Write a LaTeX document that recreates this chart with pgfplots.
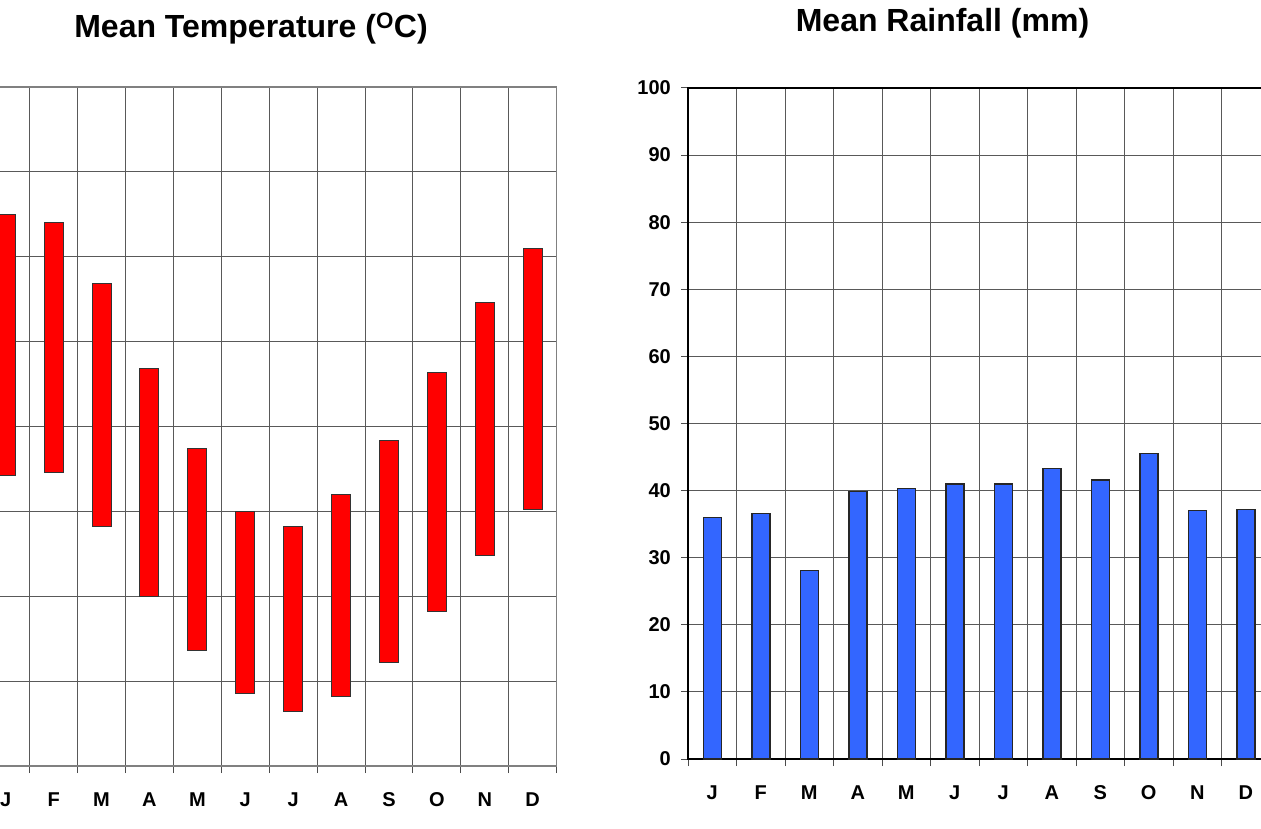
\documentclass[border=0pt]{standalone}
\usepackage{pgfplots}
\pgfplotsset{compat=1.18}
\usepackage{pgfplotstable}
\usepackage{fontspec}
\setmainfont{Liberation Sans}

% monthly temperature range (lo, hi) and rainfall
\pgfplotstableread{
m lo hi
0 17.1 32.5
1 17.3 32.0
2 14.1 28.4
3 10.0 23.4
4 6.8 18.7
5 4.3 15.0
6 3.2 14.1
7 4.1 16.0
8 6.1 19.2
9 9.1 23.2
10 12.4 27.3
11 15.1 30.5
}\temps

\pgfplotstableread{
m rain
0 36.0
1 36.6
2 28.1
3 39.9
4 40.3
5 41.0
6 41.0
7 43.3
8 41.6
9 45.5
10 37.0
11 37.2
}\rain

\pgfplotsset{
  month axis/.style={
    scale only axis,
    anchor=south west,
    xmin=-0.5, xmax=11.5,
    xtick={0,...,11},
    xticklabels={J,F,M,A,M,J,J,A,S,O,N,D},
    minor xtick={-0.5,0.5,...,11.5},
    major x tick style={draw=none},
    minor tick length=7pt,
    major tick length=7pt,
    tick align=outside,
    xtick pos=bottom, ytick pos=left,
    ymajorgrids, xminorgrids,
    grid style={black!65, line width=1pt},
    minor grid style={black!65, line width=1pt},
    tick style={black!70, line width=1pt},
    tick label style={font=\bfseries\fontsize{20}{22}\selectfont},
    /pgf/number format/assume math mode=true,
    xticklabel style={anchor=north, inner sep=0pt, text height=14.3pt, text depth=0pt, yshift=-19pt},
    yticklabel style={anchor=east, inner sep=0pt, xshift=-10pt},
  },
}

\begin{document}
\begin{tikzpicture}
\useasboundingbox (0pt,0pt) rectangle (1261pt,828pt);
\clip (0pt,0pt) rectangle (1261pt,828pt);

% temperature: floating bars from lo to hi (its y labels lie off the picture)
\begin{axis}[month axis,
    at={(-18.2pt,62pt)}, width=574.8pt, height=679pt,
    ymin=0, ymax=40, ytick={0,5,...,40}, yticklabels={},
    ybar stacked, bar width=19pt,
    axis line style={black!50, line width=1.5pt},
  ]
  \addplot[draw=none, fill=none] table[x=m, y=lo] {\temps};
  \addplot[fill=red, draw=black!80, line width=1pt]
    table[x=m, y expr=\thisrow{hi}-\thisrow{lo}] {\temps};
\end{axis}

% rainfall
\begin{axis}[month axis,
    at={(688pt,69pt)}, width=582pt, height=671pt,
    ymin=0, ymax=100, ytick={0,10,...,100},
    ybar, bar width=18pt,
    axis line style={black, line width=1.5pt},
  ]
  \addplot[fill={rgb,255:red,51;green,102;blue,255}, draw=black!85, line width=1.5pt]
    table[x=m, y=rain] {\rain};
\end{axis}

\node[anchor=base, font=\bfseries\fontsize{32}{34}\selectfont] at (251pt,790pt) {Mean Temperature (\textsuperscript{O}C)};
\node[anchor=base, font=\bfseries\fontsize{32}{34}\selectfont] at (942.5pt,796.5pt) {Mean Rainfall (mm)};
\end{tikzpicture}
\end{document}
